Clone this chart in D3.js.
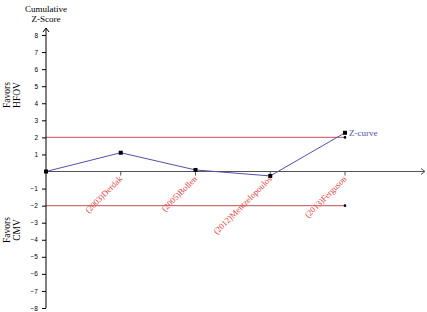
<!DOCTYPE html>
<html>
<head>
  <script src="https://d3js.org/d3.v7.min.js"></script>
  <meta charset='utf-8'>
  <style>
    body { margin: 0; background: #fff; }
    svg text { font-family: "Liberation Serif", "Times New Roman", serif; }
    svg .tick text { font-family: "Liberation Sans", Arial, sans-serif; }
  </style>
</head>
<body>
  <div id="container"></div>
  <script>
  const
  width = 427,
  height = 312;

  // studies in order, cumulative z-scores
  const studies = ["", "(2003)Derdak", "(2005)Bollen", "(2012)Mentzelopoulos", "(2013)Ferguson"];
  const zValues = [0, 1.1, 0.09, -0.26, 2.27];
  const yTicks = [-8, -7, -6, -5, -4, -3, -2, -1, 1, 2, 3, 4, 5, 6, 7, 8];
  const bounds = [2, -2];

  const svg = d3.select("#container").append("svg")
    .attr("width", width)
    .attr("height", height);

  const x = d3.scaleLinear().domain([0, 4]).range([46, 345]);
  const y = d3.scaleLinear().domain([-8, 8]).range([308, 35]);

  // boundary lines
  svg.selectAll(".bound")
    .data(bounds)
    .enter()
    .append("line")
    .attr("x1", x(0))
    .attr("x2", x(4))
    .attr("y1", d => y(d))
    .attr("y2", d => y(d))
    .attr("stroke", "#c0504d")
    .attr("stroke-opacity", 0.8)
    .attr("stroke-width", 1.2);

  svg.selectAll(".bounddot")
    .data(bounds)
    .enter()
    .append("circle")
    .attr("cx", x(4))
    .attr("cy", d => y(d))
    .attr("r", 1.3)
    .attr("fill", "#000");

  // x axis
  svg.append("line")
    .attr("x1", x(0)).attr("x2", 424)
    .attr("y1", y(0)).attr("y2", y(0))
    .attr("stroke", "#555")
    .attr("stroke-width", 1);
  svg.append("path")
    .attr("d", `M421,${y(0) - 3}L425,${y(0)}L421,${y(0) + 3}`)
    .attr("fill", "none")
    .attr("stroke", "#555");

  svg.selectAll(".xtick")
    .data(studies.slice(1))
    .enter()
    .append("line")
    .attr("x1", (d, i) => x(i + 1))
    .attr("x2", (d, i) => x(i + 1))
    .attr("y1", y(0))
    .attr("y2", y(0) + 4)
    .attr("stroke", "#555");

  svg.selectAll(".xlabel")
    .data(studies.slice(1))
    .enter()
    .append("text")
    .attr("transform", (d, i) => `translate(${x(i + 1) + 2},${y(0) + 8}) rotate(-45)`)
    .attr("text-anchor", "end")
    .attr("font-size", 8.6)
    .attr("fill", "#e04040")
    .text(d => d);

  // y axis
  const yAxis = d3.axisLeft(y)
    .tickValues(yTicks)
    .tickSize(4)
    .tickFormat(d3.format("d"));
  const gy = svg.append("g")
    .attr("transform", `translate(${x(0)},0)`)
    .call(yAxis);
  gy.select(".domain").remove();
  gy.selectAll("text")
    .attr("font-size", 6.5)
    .attr("dx", -1);
  svg.append("line")
    .attr("x1", x(0)).attr("x2", x(0))
    .attr("y1", 28).attr("y2", 308)
    .attr("stroke", "#000");
  svg.append("path")
    .attr("d", `M${x(0) - 3},32L${x(0)},28L${x(0) + 3},32`)
    .attr("fill", "none")
    .attr("stroke", "#000");

  // z-curve
  const line = d3.line()
    .x((d, i) => x(i))
    .y(d => y(d));
  svg.append("path")
    .datum(zValues)
    .attr("d", line)
    .attr("fill", "none")
    .attr("stroke", "#5050b0")
    .attr("stroke-width", 1);

  svg.selectAll(".pt")
    .data(zValues)
    .enter()
    .append("rect")
    .attr("x", (d, i) => x(i) - 2)
    .attr("y", d => y(d) - 2)
    .attr("width", 4)
    .attr("height", 4)
    .attr("fill", "#000");

  svg.append("text")
    .attr("x", x(4) + 4)
    .attr("y", y(zValues[4]) + 3)
    .attr("font-size", 9)
    .attr("fill", "#5050b0")
    .text("Z-curve");

  // titles
  svg.append("text")
    .attr("x", x(0))
    .attr("y", 12)
    .attr("text-anchor", "middle")
    .attr("font-size", 9)
    .text("Cumulative");
  svg.append("text")
    .attr("x", x(0))
    .attr("y", 22)
    .attr("text-anchor", "middle")
    .attr("font-size", 9)
    .text("Z-Score");

  [["Favors", "HFOV", 95], ["Favors", "CMV", 230]].forEach(function(t) {
    const g = svg.append("text")
      .attr("transform", `translate(0,${t[2]}) rotate(-90)`)
      .attr("text-anchor", "middle")
      .attr("font-size", 9.5);
    g.append("tspan").attr("x", 0).attr("y", 10).text(t[0]);
    g.append("tspan").attr("x", 0).attr("y", 20).text(t[1]);
  });
  </script>
</body>
</html>
